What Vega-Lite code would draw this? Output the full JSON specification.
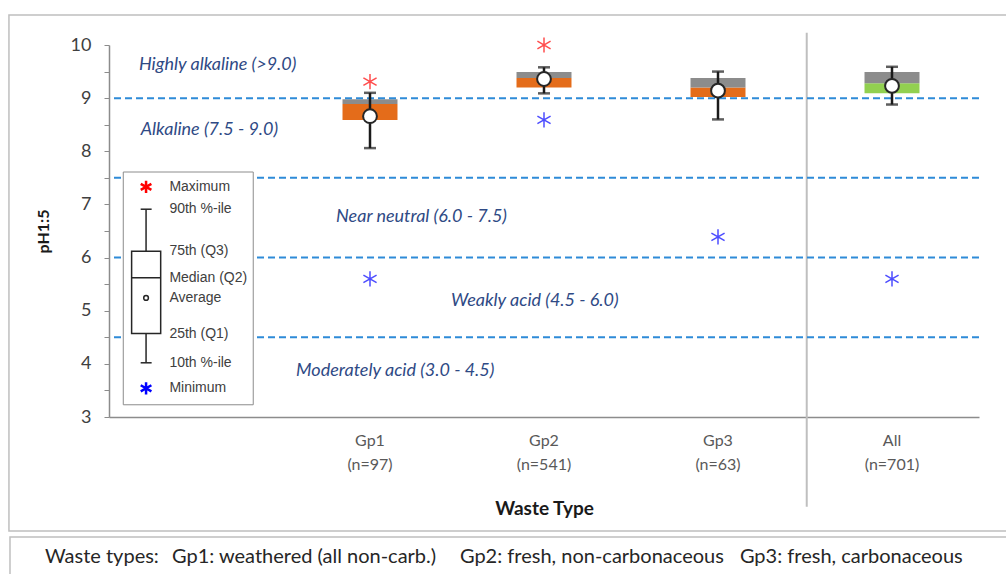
{
  "$schema": "https://vega.github.io/schema/vega-lite/v6.json",
  "width": 870,
  "height": 372,
  "autosize": {"type": "none"},
  "padding": {"left": 109, "top": 45, "right": 27, "bottom": 157},
  "background": "white",
  "config": {"view": {"stroke": null}, "font": "Lato"},
  "datasets": {
    "stats": [
      {"group": "Gp1 (n=97)", "max": 9.31, "p90": 9.10, "q3": 8.98, "median": 8.89, "mean": 8.66, "q1": 8.59, "p10": 8.06, "min": 5.60},
      {"group": "Gp2 (n=541)", "max": 10.0, "p90": 9.58, "q3": 9.49, "median": 9.38, "mean": 9.36, "q1": 9.20, "p10": 9.09, "min": 8.59},
      {"group": "Gp3 (n=63)", "max": null, "p90": 9.50, "q3": 9.38, "median": 9.20, "mean": 9.14, "q1": 9.02, "p10": 8.60, "min": 6.39},
      {"group": "All (n=701)", "max": null, "p90": 9.59, "q3": 9.49, "median": 9.28, "mean": 9.23, "q1": 9.09, "p10": 8.88, "min": 5.60}
    ],
    "classes": [{"ph": 9.0}, {"ph": 7.5}, {"ph": 6.0}, {"ph": 4.5}],
    "bands": [
      {"label": "Highly alkaline (>9.0)", "pos": 0.172, "ph": 9.62},
      {"label": "Alkaline (7.5 - 9.0)", "pos": 0.182, "ph": 8.40},
      {"label": "Near neutral (6.0 - 7.5)", "pos": 1.305, "ph": 6.76},
      {"label": "Weakly acid (4.5 - 6.0)", "pos": 1.965, "ph": 5.19},
      {"label": "Moderately acid (3.0 - 4.5)", "pos": 1.075, "ph": 3.87}
    ],
    "key": [
      {"key": "max", "label": "Maximum", "v": 7.33},
      {"key": "p90", "label": "90th %-ile", "v": 6.91},
      {"key": "q3", "label": "75th (Q3)", "v": 6.12},
      {"key": "median", "label": "Median (Q2)", "v": 5.62},
      {"key": "mean", "label": "Average", "v": 5.24},
      {"key": "q1", "label": "25th (Q1)", "v": 4.57},
      {"key": "p10", "label": "10th %-ile", "v": 4.02},
      {"key": "min", "label": "Minimum", "v": 3.54}
    ],
    "footer": [
      {"text": "Waste types:", "pos": -0.368},
      {"text": "Gp1: weathered (all non-carb.)", "pos": 0.362},
      {"text": "Gp2: fresh, non-carbonaceous", "pos": 2.017},
      {"text": "Gp3: fresh, carbonaceous", "pos": 3.626}
    ]
  },
  "layer": [
    {
      "data": {"values": [{}]},
      "mark": {"type": "rect", "fill": "white", "fillOpacity": 0, "stroke": "#BFBFBF", "strokeWidth": 1.5},
      "encoding": {
        "x": {"datum": -0.575, "type": "quantitative", "scale": {"domain": [0, 5], "nice": false, "zero": false}, "axis": null},
        "x2": {"datum": 5.2},
        "y": {"datum": 10.565, "type": "quantitative", "axis": null},
        "y2": {"datum": 0.855}
      }
    },
    {
      "data": {"values": [{}]},
      "mark": {"type": "rect", "fill": "white", "fillOpacity": 0, "stroke": "#BFBFBF", "strokeWidth": 1.5},
      "encoding": {
        "x": {"datum": -0.569, "type": "quantitative", "scale": {"domain": [0, 5], "nice": false, "zero": false}, "axis": null},
        "x2": {"datum": 5.2},
        "y": {"datum": 0.742, "type": "quantitative", "axis": null},
        "y2": {"datum": -0.3}
      }
    },
    {
      "data": {"name": "footer"},
      "mark": {"type": "text", "align": "left", "baseline": "middle", "font": "Lato", "fontSize": 20, "color": "#262626"},
      "encoding": {
        "x": {"field": "pos", "type": "quantitative", "scale": {"domain": [0, 5], "nice": false, "zero": false}, "axis": null},
        "y": {"datum": 0.365, "type": "quantitative", "axis": null},
        "text": {"field": "text"}
      }
    },
    {
      "data": {"values": [{}]},
      "mark": {"type": "rule", "color": "#BFBFBF", "strokeWidth": 2},
      "encoding": {
        "x": {"datum": 4.01, "type": "quantitative", "scale": {"domain": [0, 5], "nice": false, "zero": false}, "axis": null},
        "y": {"datum": 10.23, "type": "quantitative", "axis": null},
        "y2": {"datum": 1.31}
      }
    },
    {
      "data": {"name": "stats"},
      "mark": {"type": "bar", "width": {"band": 0.316}},
      "encoding": {
        "x": {
          "field": "group", "type": "nominal",
          "scale": {"domain": ["", "Gp1 (n=97)", "Gp2 (n=541)", "Gp3 (n=63)", "All (n=701)"], "paddingInner": 0, "paddingOuter": 0},
          "axis": {
            "title": "Waste Type", "titleFont": "Lato", "titleFontSize": 19, "titleFontWeight": "bold", "titleColor": "#1a1a1a", "titlePadding": 27,
            "labelExpr": "split(datum.label, ' ')", "labelFont": "Lato", "labelFontSize": 16, "labelColor": "#595959",
            "labelLineHeight": 24, "labelPadding": 15, "labelAngle": 0, "ticks": false,
            "domainColor": "#8c8c8c", "domainWidth": 1.5, "grid": false
          }
        },
        "y": {
          "field": "q1", "type": "quantitative",
          "scale": {"domain": [3, 10], "nice": false, "zero": false},
          "axis": {
            "orient": "left", "zindex": 1,
            "title": "pH1:5", "values": [3, 3.5, 4, 4.5, 5, 5.5, 6, 6.5, 7, 7.5, 8, 8.5, 9, 9.5, 10],
            "labelExpr": "datum.value % 1 === 0 ? format(datum.value, 'd') : ''",
            "labelFont": "Lato", "labelFontSize": 18, "labelColor": "#404040", "labelPadding": 13,
            "labelFlush": false, "labelOverlap": false,
            "tickSize": 5, "tickColor": "#8c8c8c", "domainColor": "#8c8c8c", "domainWidth": 1.5, "grid": false,
            "titleFont": "Lato", "titleFontSize": 16, "titleFontWeight": "bold", "titleColor": "#1a1a1a", "titlePadding": 19
          }
        },
        "y2": {"field": "median"},
        "color": {
          "field": "group", "type": "nominal",
          "scale": {"domain": ["Gp1 (n=97)", "Gp2 (n=541)", "Gp3 (n=63)", "All (n=701)"], "range": ["#E46C1A", "#E46C1A", "#E46C1A", "#92D050"]},
          "legend": null
        }
      }
    },
    {
      "data": {"name": "stats"},
      "mark": {"type": "bar", "width": {"band": 0.316}, "color": "#8C8C8C"},
      "encoding": {
        "x": {"field": "group", "type": "nominal", "scale": {"domain": ["", "Gp1 (n=97)", "Gp2 (n=541)", "Gp3 (n=63)", "All (n=701)"], "paddingInner": 0, "paddingOuter": 0}, "axis": null},
        "y": {"field": "median", "type": "quantitative", "axis": null},
        "y2": {"field": "q3"}
      }
    },
    {
      "data": {"name": "classes"},
      "mark": {"type": "rule", "color": "#2E8BD8", "strokeDash": [7, 4], "strokeWidth": 2},
      "encoding": {
        "y": {"field": "ph", "type": "quantitative", "axis": null}
      }
    },
    {
      "data": {"name": "stats"},
      "mark": {"type": "rule", "color": "#1a1a1a", "strokeWidth": 2.5},
      "encoding": {
        "x": {"field": "group", "type": "nominal", "scale": {"domain": ["", "Gp1 (n=97)", "Gp2 (n=541)", "Gp3 (n=63)", "All (n=701)"], "paddingInner": 0, "paddingOuter": 0}, "axis": null},
        "y": {"field": "p10", "type": "quantitative", "axis": null},
        "y2": {"field": "p90"}
      }
    },
    {
      "data": {"name": "stats"},
      "transform": [{"fold": ["p10", "p90"], "as": ["stat", "val"]}],
      "mark": {"type": "tick", "orient": "horizontal", "size": 12, "thickness": 2.5, "color": "#1a1a1a"},
      "encoding": {
        "x": {"field": "group", "type": "nominal", "scale": {"domain": ["", "Gp1 (n=97)", "Gp2 (n=541)", "Gp3 (n=63)", "All (n=701)"], "paddingInner": 0, "paddingOuter": 0}, "axis": null},
        "y": {"field": "val", "type": "quantitative", "axis": null}
      }
    },
    {
      "data": {"name": "stats"},
      "mark": {"type": "point", "shape": "circle", "filled": true, "fill": "white", "stroke": "#262626", "strokeWidth": 2, "size": 190, "opacity": 1},
      "encoding": {
        "x": {"field": "group", "type": "nominal", "scale": {"domain": ["", "Gp1 (n=97)", "Gp2 (n=541)", "Gp3 (n=63)", "All (n=701)"], "paddingInner": 0, "paddingOuter": 0}, "axis": null},
        "y": {"field": "mean", "type": "quantitative", "axis": null}
      }
    },
    {
      "data": {"name": "stats"},
      "transform": [{"filter": "isValid(datum.max)"}],
      "mark": {"type": "point", "shape": "M0,-1L0,1M-0.87,-0.5L0.87,0.5M-0.87,0.5L0.87,-0.5", "filled": false, "color": "#FF4D4D", "strokeWidth": 1.5, "size": 230, "opacity": 1},
      "encoding": {
        "x": {"field": "group", "type": "nominal", "scale": {"domain": ["", "Gp1 (n=97)", "Gp2 (n=541)", "Gp3 (n=63)", "All (n=701)"], "paddingInner": 0, "paddingOuter": 0}, "axis": null},
        "y": {"field": "max", "type": "quantitative", "axis": null}
      }
    },
    {
      "data": {"name": "stats"},
      "mark": {"type": "point", "shape": "M0,-1L0,1M-0.87,-0.5L0.87,0.5M-0.87,0.5L0.87,-0.5", "filled": false, "color": "#4D4DFF", "strokeWidth": 1.5, "size": 230, "opacity": 1},
      "encoding": {
        "x": {"field": "group", "type": "nominal", "scale": {"domain": ["", "Gp1 (n=97)", "Gp2 (n=541)", "Gp3 (n=63)", "All (n=701)"], "paddingInner": 0, "paddingOuter": 0}, "axis": null},
        "y": {"field": "min", "type": "quantitative", "axis": null}
      }
    },
    {
      "data": {"name": "bands"},
      "mark": {"type": "text", "align": "left", "baseline": "middle", "font": "Lato", "fontStyle": "italic", "fontSize": 18, "color": "#2F4A85"},
      "encoding": {
        "x": {"field": "pos", "type": "quantitative", "scale": {"domain": [0, 5], "nice": false, "zero": false}, "axis": null},
        "y": {"field": "ph", "type": "quantitative", "axis": null},
        "text": {"field": "label"}
      }
    },
    {
      "data": {"values": [{}]},
      "mark": {"type": "rect", "fill": "white", "stroke": "#8c8c8c", "strokeWidth": 1},
      "encoding": {
        "x": {"datum": 0.082, "type": "quantitative", "scale": {"domain": [0, 5], "nice": false, "zero": false}, "axis": null},
        "x2": {"datum": 0.829},
        "y": {"datum": 7.61, "type": "quantitative", "axis": null},
        "y2": {"datum": 3.23}
      }
    },
    {
      "data": {"name": "key"},
      "transform": [{"filter": "datum.key == 'p90' || datum.key == 'p10'"}],
      "mark": {"type": "rule", "color": "#262626", "strokeWidth": 1.5},
      "encoding": {
        "x": {"datum": 0.213, "type": "quantitative", "scale": {"domain": [0, 5], "nice": false, "zero": false}, "axis": null},
        "y": {"aggregate": "max", "field": "v", "type": "quantitative", "axis": null},
        "y2": {"aggregate": "min", "field": "v"}
      }
    },
    {
      "data": {"name": "key"},
      "transform": [{"filter": "datum.key == 'p90' || datum.key == 'p10'"}],
      "mark": {"type": "rule", "color": "#262626", "strokeWidth": 1.5},
      "encoding": {
        "x": {"datum": 0.182, "type": "quantitative", "scale": {"domain": [0, 5], "nice": false, "zero": false}, "axis": null},
        "x2": {"datum": 0.245},
        "y": {"field": "v", "type": "quantitative", "axis": null}
      }
    },
    {
      "data": {"name": "key"},
      "transform": [{"filter": "datum.key == 'q3' || datum.key == 'q1'"}],
      "mark": {"type": "rect", "fill": "white", "stroke": "#262626", "strokeWidth": 1.5},
      "encoding": {
        "x": {"datum": 0.130, "type": "quantitative", "scale": {"domain": [0, 5], "nice": false, "zero": false}, "axis": null},
        "x2": {"datum": 0.297},
        "y": {"aggregate": "max", "field": "v", "type": "quantitative", "axis": null},
        "y2": {"aggregate": "min", "field": "v"}
      }
    },
    {
      "data": {"name": "key"},
      "transform": [{"filter": "datum.key == 'median'"}],
      "mark": {"type": "rule", "color": "#262626", "strokeWidth": 1.5},
      "encoding": {
        "x": {"datum": 0.130, "type": "quantitative", "scale": {"domain": [0, 5], "nice": false, "zero": false}, "axis": null},
        "x2": {"datum": 0.297},
        "y": {"field": "v", "type": "quantitative", "axis": null}
      }
    },
    {
      "data": {"name": "key"},
      "transform": [{"filter": "datum.key == 'mean'"}],
      "mark": {"type": "point", "shape": "circle", "filled": true, "fill": "white", "stroke": "#262626", "strokeWidth": 1.5, "size": 22, "opacity": 1},
      "encoding": {
        "x": {"datum": 0.213, "type": "quantitative", "scale": {"domain": [0, 5], "nice": false, "zero": false}, "axis": null},
        "y": {"field": "v", "type": "quantitative", "axis": null}
      }
    },
    {
      "data": {"name": "key"},
      "transform": [{"filter": "datum.key == 'max' || datum.key == 'min'"}],
      "mark": {"type": "point", "shape": "M0,-1L0,1M-0.87,-0.5L0.87,0.5M-0.87,0.5L0.87,-0.5", "filled": false, "strokeWidth": 2.5, "size": 150, "opacity": 1},
      "encoding": {
        "x": {"datum": 0.213, "type": "quantitative", "scale": {"domain": [0, 5], "nice": false, "zero": false}, "axis": null},
        "y": {"field": "v", "type": "quantitative", "axis": null},
        "color": {"field": "key", "type": "nominal", "scale": {"domain": ["max", "min"], "range": ["#FF0000", "#0000FF"]}, "legend": null}
      }
    },
    {
      "data": {"name": "key"},
      "mark": {"type": "text", "align": "left", "baseline": "middle", "font": "Liberation Sans", "fontSize": 14, "color": "#404040"},
      "encoding": {
        "x": {"datum": 0.347, "type": "quantitative", "scale": {"domain": [0, 5], "nice": false, "zero": false}, "axis": null},
        "y": {"field": "v", "type": "quantitative", "axis": null},
        "text": {"field": "label"}
      }
    }
  ],
  "resolve": {"scale": {"x": "independent", "color": "independent"}, "axis": {"y": "independent"}}
}
